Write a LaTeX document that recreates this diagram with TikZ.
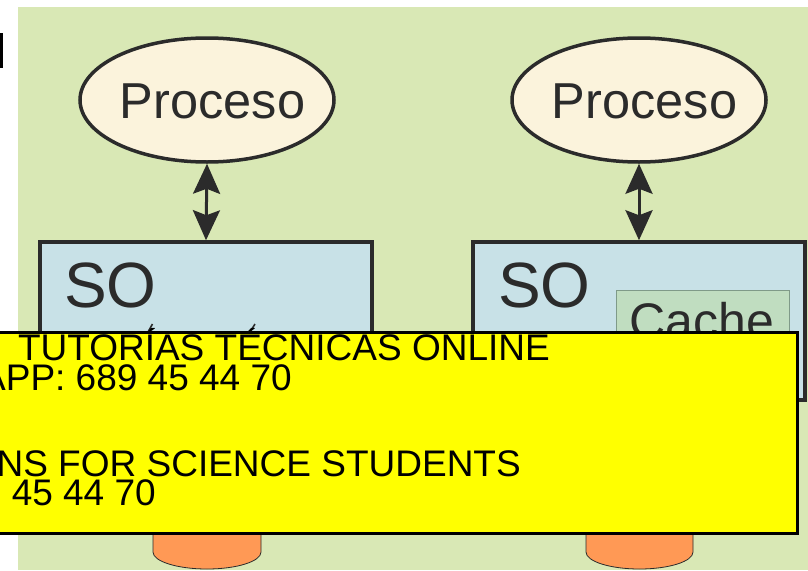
\documentclass[tikz,border=0pt]{standalone}
\usepackage{fontspec}
\setmainfont{Liberation Sans}
\usetikzlibrary{arrows.meta,shapes.geometric}
\definecolor{bggreen}{HTML}{D9E8B5}
\definecolor{boxblue}{HTML}{C8E1E7}
\definecolor{ellfill}{HTML}{FBF3DC}
\definecolor{cachefill}{HTML}{C0DDC0}
\definecolor{cachedraw}{HTML}{7F9A88}
\definecolor{ink}{HTML}{2B2B2B}
\definecolor{orangec}{HTML}{FF9955}
\definecolor{adyellow}{HTML}{FFFF00}
\tikzset{
  proc/.style={ellipse, draw=ink, line width=3.5pt, fill=ellfill, minimum width=254pt, minimum height=124pt, inner sep=0pt},
  sobox/.style={rectangle, draw=ink, line width=3.5pt, fill=boxblue, minimum width=332pt, minimum height=158pt, inner sep=0pt},
  cachebox/.style={rectangle, draw=cachedraw, line width=1pt, fill=cachefill, minimum width=173pt, minimum height=95pt, inner sep=0pt},
  dbl/.style={draw=ink, line width=3pt, {Stealth[length=30pt, width=27pt, inset=5pt]}-{Stealth[length=30pt, width=27pt, inset=5pt]}},
  big/.style={text=ink, inner sep=0pt},
  disk/.style={draw=ink, line width=0.8pt, fill=orangec},
  ad/.style={rectangle, draw=black, line width=3pt, fill=adyellow, minimum width=804pt, minimum height=201pt, inner sep=0pt},
  adtext/.style={text=black, inner sep=0pt, text height=26pt, text depth=1pt, font=\fontsize{37}{40}\selectfont}
}
\begin{document}
\begin{tikzpicture}[x=1pt, y=-1pt]
\useasboundingbox (0,0) rectangle (808,570);
\fill[bggreen] (17.5,7) rectangle (808,570);
\fill[black] (0,33) rectangle (3,68);
% processes
\node[proc] (p1) at (207,100) {};
\node[big, anchor=base, font=\fontsize{50.5}{60}\selectfont] (p1t) at (212.5,118) {Proceso};
\node[proc] (p2) at (639,100) {};
\node[big, anchor=base, font=\fontsize{50.5}{60}\selectfont] (p2t) at (644.5,118) {Proceso};
% OS boxes
\node[sobox] (so1) at (206,321) {};
\node[sobox] (so2) at (639,321) {};
\draw[dbl] (p1.south) -- (so1.north);
\draw[dbl] (p2.south) -- (so2.north);
\node[big, anchor=base west, font=\fontsize{64}{70}\selectfont] (so1t) at (64,307) {SO};
\node[big, anchor=base west, font=\fontsize{64}{70}\selectfont] (so2t) at (498,307) {SO};
\node[cachebox] (c2) at (702.5,337.5) {};
\node[big, anchor=base west, font=\fontsize{50}{55}\selectfont] (c2t) at (629.5,338) {Cache};
% accent fragments of hidden text
\draw[ink, line width=1.6pt] (148,332) -- (152.5,324);
\draw[ink, line width=1.6pt] (250,332) -- (255,324);
% disks
\draw[disk] (153,530) -- (153,552) arc[start angle=180, end angle=0, x radius=54, y radius=17] -- (261,530);
\draw[disk] (586,530) -- (586,552) arc[start angle=180, end angle=0, x radius=53.5, y radius=17] -- (693,530);
% banner
\node[ad] (ad) at (395,432.5) {};
\node[adtext, anchor=base east] (l1) at (550,360) {TUTORÍAS TÉCNICAS ONLINE};
\node[adtext, anchor=base east] (l2) at (292,390) {APP: 689 45 44 70};
\node[adtext, anchor=base east] (l4) at (521,476) {NS FOR SCIENCE STUDENTS};
\node[adtext, anchor=base east] (l5) at (156,505) {45 44 70};
\end{tikzpicture}
\end{document}
